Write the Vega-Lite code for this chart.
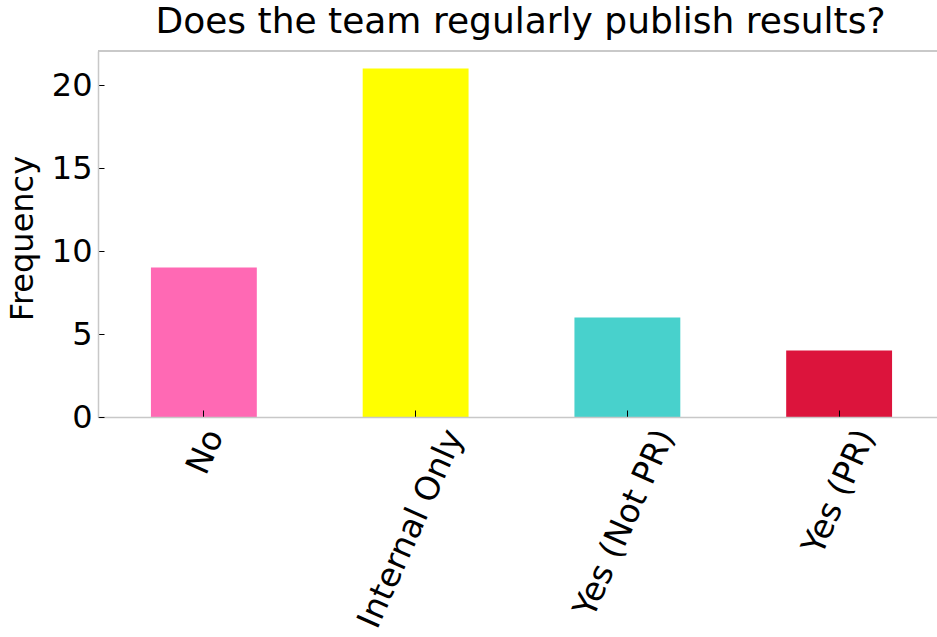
{
  "$schema": "https://vega.github.io/schema/vega-lite/v6.json",
  "autosize": {"type": "none"},
  "padding": {"left": 98, "top": 51, "right": 0, "bottom": 220},
  "width": 839,
  "height": 366,
  "background": "white",
  "config": {"view": {"stroke": null}, "font": "DejaVu Sans"},
  "title": {"text": "Does the team regularly publish results?", "fontSize": 36, "font": "DejaVu Sans", "fontWeight": "normal", "color": "black", "anchor": "middle", "frame": "group", "baseline": "alphabetic", "offset": 16, "dx": 3, "dy": 35},
  "data": {"values": [
    {"answer": "No", "count": 9},
    {"answer": "Internal Only", "count": 21},
    {"answer": "Yes (Not PR)", "count": 6},
    {"answer": "Yes (PR)", "count": 4}
  ]},
  "layer": [
    {
      "mark": {"type": "bar"},
      "encoding": {
        "x": {"field": "answer", "type": "nominal", "sort": null,
          "scale": {"range": [0, 847], "paddingInner": 0.5, "paddingOuter": 0.25},
          "axis": {"title": null, "zindex": 1, "domainColor": "#c8c8c8", "domainWidth": 1.5,
            "tickColor": "black", "tickWidth": 1, "tickSize": -7,
            "labelAngle": -66, "labelAlign": "right", "labelBaseline": "middle", "labelLimit": 0,
            "labelFontSize": 33, "labelColor": "black", "labelPadding": 21,
            "labelOffset": {"condition": [
              {"test": "datum.label == 'No'", "value": 11},
              {"test": "datum.label == 'Internal Only'", "value": 39},
              {"test": "datum.label == 'Yes (Not PR)'", "value": 38}
            ], "value": 27}}},
        "y": {"field": "count", "type": "quantitative",
          "scale": {"domain": [0, 22.05], "nice": false},
          "axis": {"title": "Frequency", "titleFontSize": 32, "titleFontWeight": "normal", "titleColor": "black",
            "titleAngle": -90, "titleX": -76, "titleY": 187, "titleAlign": "center", "titleBaseline": "middle",
            "values": [0, 5, 10, 15, 20], "grid": false, "zindex": 1,
            "domainColor": "#c8c8c8", "domainWidth": 1.5,
            "tickColor": "black", "tickWidth": 1, "tickSize": -6,
            "labelFontSize": 32, "labelColor": "black", "labelPadding": 12}},
        "color": {"field": "answer", "type": "nominal", "legend": null,
          "scale": {"domain": ["No", "Internal Only", "Yes (Not PR)", "Yes (PR)"],
            "range": ["#FF69B4", "#FFFF00", "#48D1CC", "#DC143C"]}}
      }
    },
    {
      "mark": {"type": "rule", "color": "#c8c8c8", "strokeWidth": 1.5},
      "encoding": {"y": {"datum": 22.05}}
    }
  ]
}
